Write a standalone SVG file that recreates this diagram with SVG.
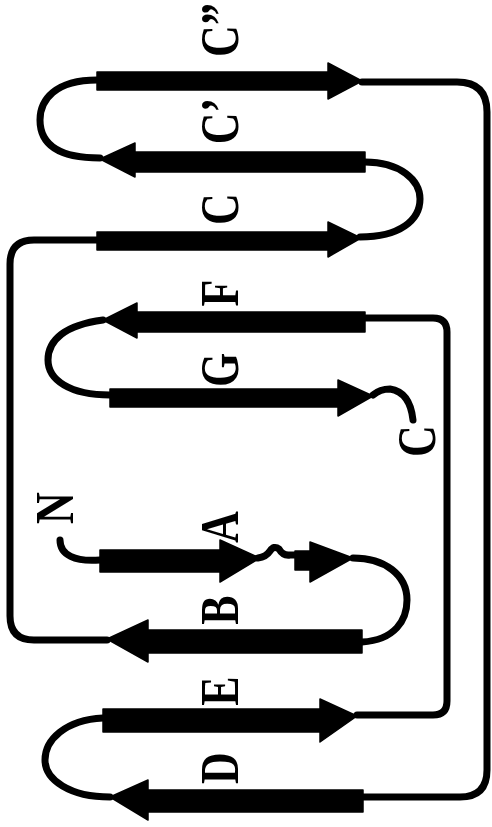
<svg xmlns="http://www.w3.org/2000/svg" width="492" height="827" viewBox="0 0 492 827">
<style>
.s{fill:#000;stroke:#000;stroke-width:1.5;stroke-linejoin:round}
.c{fill:none;stroke:#000;stroke-width:7;stroke-linecap:round;stroke-linejoin:round}
.t{font-family:"Liberation Serif","Times New Roman",serif;font-weight:bold;font-size:44px;fill:#000;text-anchor:middle}
</style>
<rect width="492" height="827" fill="#fff"/>
<g id="connectors">
<path class="c" d="M362,82 H457 Q487,82 487,112 V770 Q487,797 460,797 H363"/>
<path class="c" d="M97,80 C55,80 40,100 40,120 C40,145 60,158 100,158"/>
<path class="c" d="M365,162 C400,162 420,180 420,199 C420,220 400,237 360,237"/>
<path class="c" d="M97,240 H34 Q10,240 10,264 V616 Q10,640 34,640 H107"/>
<path class="c" d="M362,642 C395,640 407,620 407,600 C407,575 385,558 353,558"/>
<path class="c" d="M258,558 Q266,557 270,551 Q274,545 279,549 Q283,556 290,555 L296,555"/>
<path class="c" d="M60,540 C60,555 75,562 100,560"/>
<path class="c" d="M365,318 H433 Q447,318 447,332 V701 Q447,715 433,715 H357"/>
<path class="c" d="M103,320 C65,325 48,340 48,360 C48,380 70,395 110,395"/>
<path class="c" d="M373,395 Q380,389 390,389 Q410,392 413,420"/>
<path class="c" d="M103,718 C65,720 45,740 45,760 C45,780 70,797 110,797"/>
</g>
<g id="strandCpp">
<polygon class="s" points="97,72 328,72 328,63 362,81 328,99 328,90 97,90"/>
<text class="t" transform="translate(238,30) rotate(-90) scale(1,1.24)">C”</text>
</g>
<g id="strandCp">
<polygon class="s" points="365,152 135,152 135,143 100,159 135,177 135,172 365,172"/>
<text class="t" transform="translate(238,121) rotate(-90) scale(1,1.24)">C’</text>
</g>
<g id="strandC">
<polygon class="s" points="97,232 328,232 328,222 361,238 328,257 328,250 97,250"/>
<text class="t" transform="translate(238,209) rotate(-90) scale(1,1.24)">C</text>
</g>
<g id="strandF">
<polygon class="s" points="365,312 137,312 137,303 103,320 137,338 137,332 365,332"/>
<text class="t" transform="translate(238,293) rotate(-90) scale(1,1.24)">F</text>
</g>
<g id="strandG">
<polygon class="s" points="110,389 338,389 338,380 373,396 338,416 338,407 110,407"/>
<text class="t" transform="translate(238,370) rotate(-90) scale(1,1.24)">G</text>
<text class="t" transform="translate(435,441) rotate(-90) scale(1,1.24)">C</text>
</g>
<g id="strandA">
<polygon class="s" points="100,550 220,550 220,540 260,558 220,582 220,572 100,572"/>
<polygon class="s" points="295,551 310,551 310,542 353,558 310,582 310,570 295,570"/>
<text class="t" transform="translate(238,527) rotate(-90) scale(1,1.24)">A</text>
<text class="t" transform="translate(73,508) rotate(-90) scale(1,1.24)">N</text>
</g>
<g id="strandB">
<polygon class="s" points="362,630 148,630 148,620 107,639 148,662 148,653 362,653"/>
<text class="t" transform="translate(238,610) rotate(-90) scale(1,1.24)">B</text>
</g>
<g id="strandE">
<polygon class="s" points="103,709 320,709 320,699 357,716 320,742 320,732 103,732"/>
<text class="t" transform="translate(238,691) rotate(-90) scale(1,1.24)">E</text>
</g>
<g id="strandD">
<polygon class="s" points="363,790 148,790 148,780 110,797 148,820 148,812 363,812"/>
<text class="t" transform="translate(238,768) rotate(-90) scale(1,1.24)">D</text>
</g>
</svg>
